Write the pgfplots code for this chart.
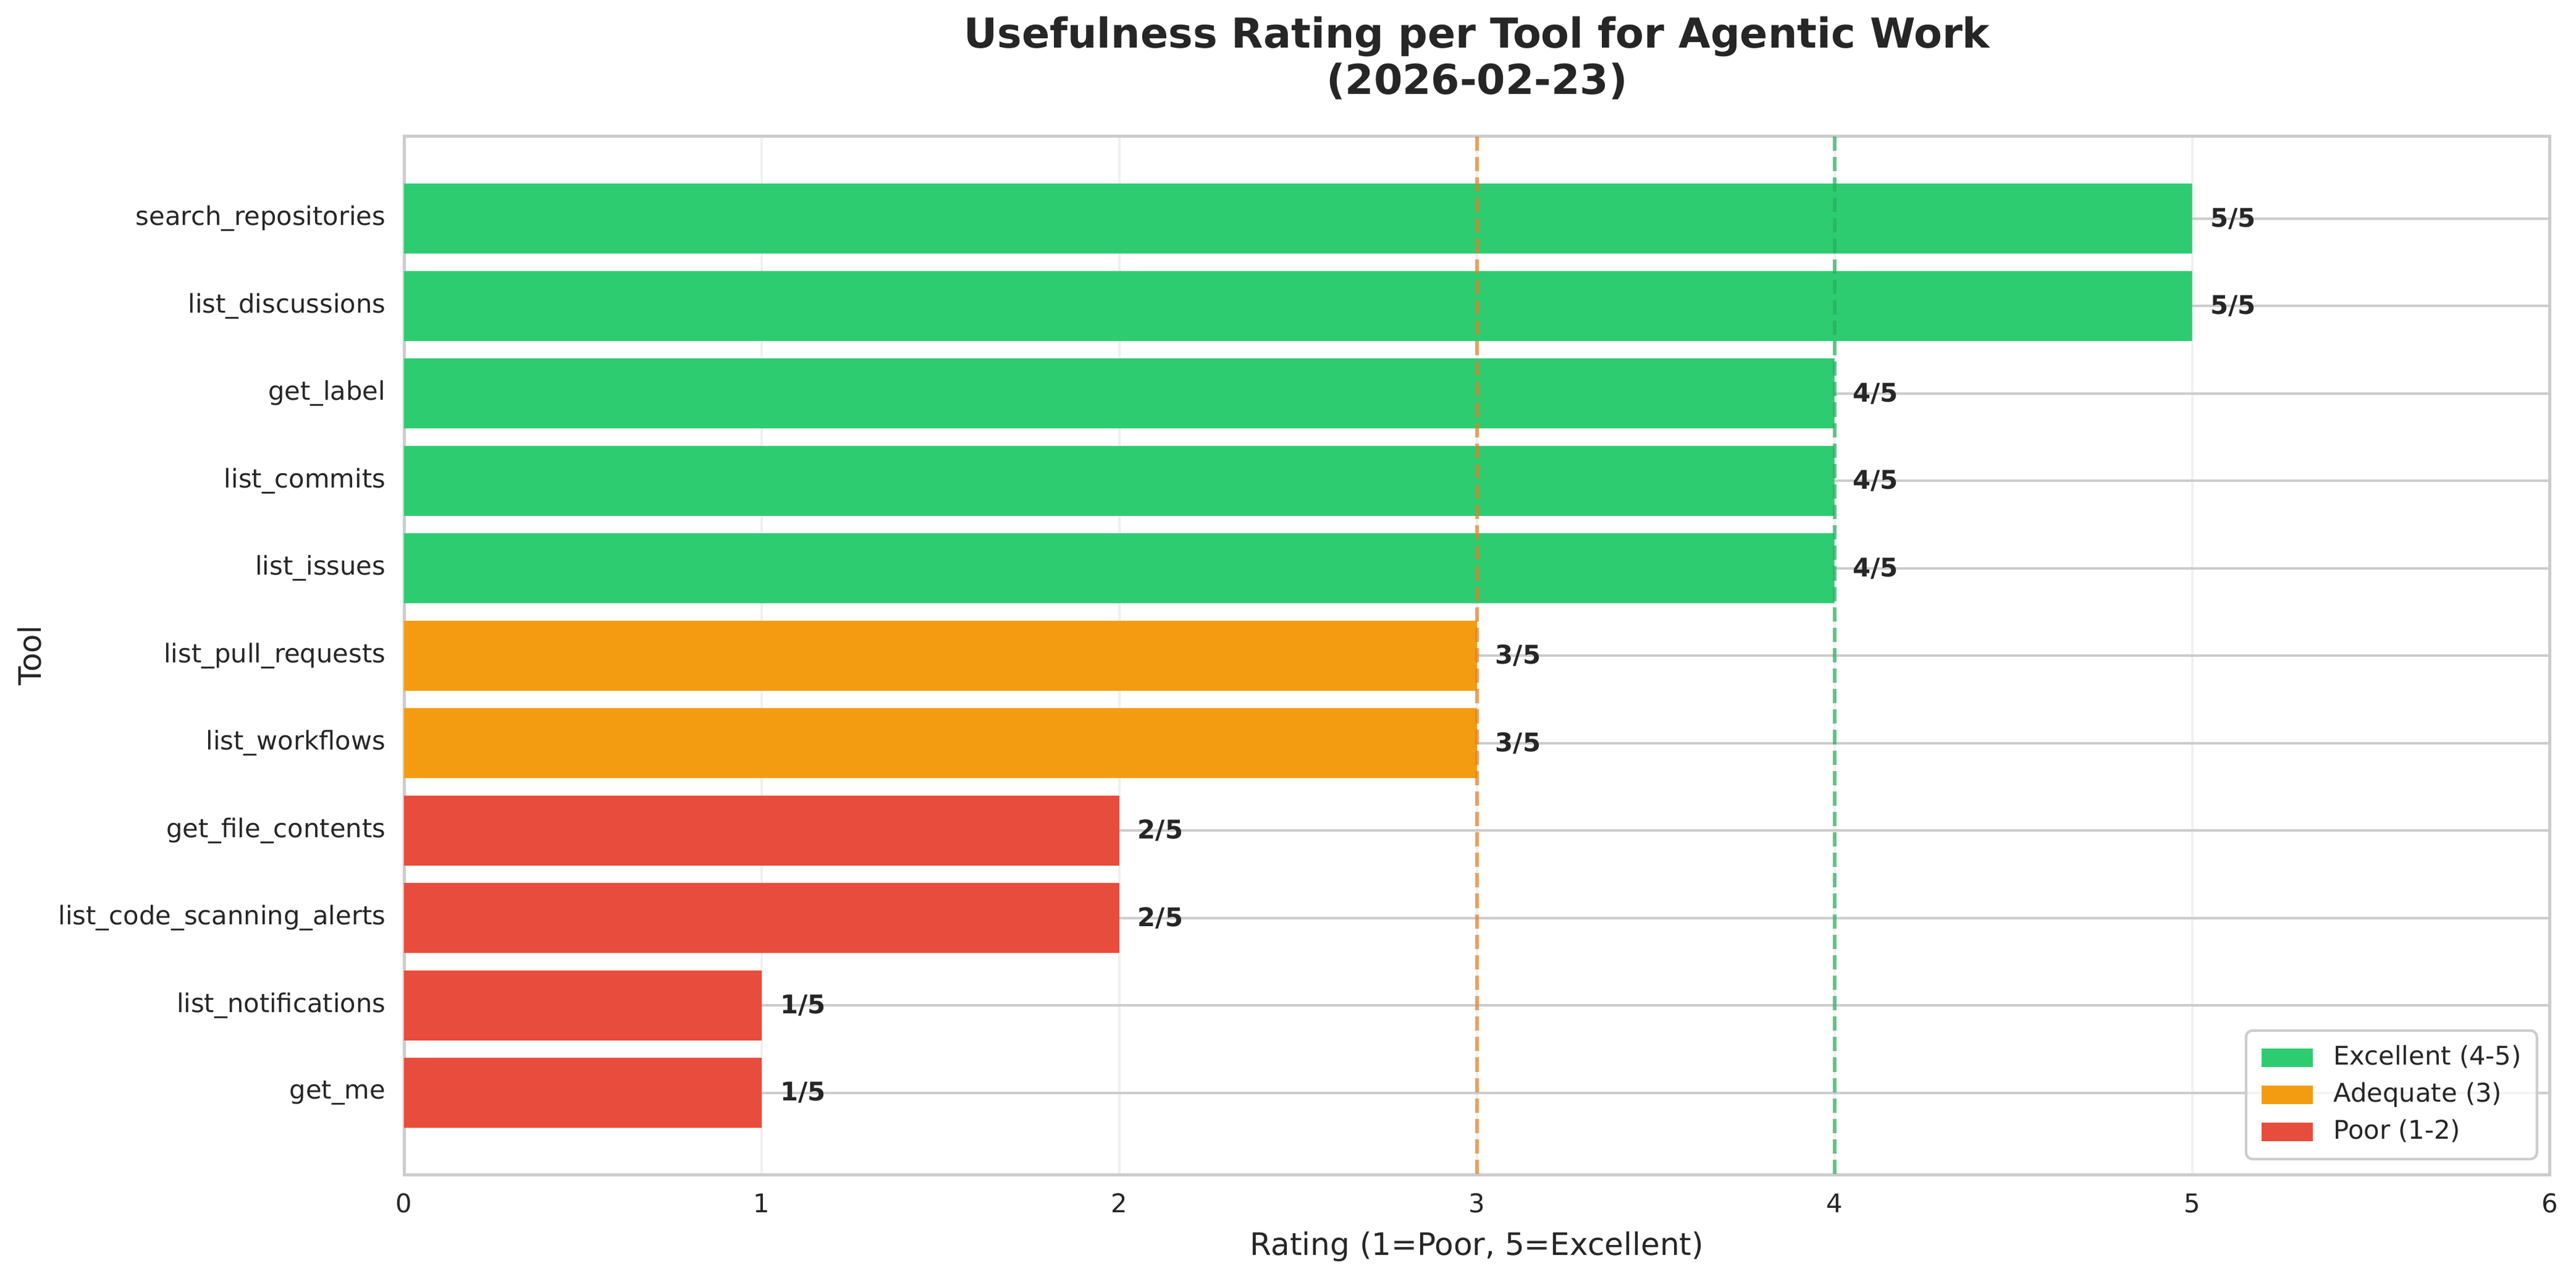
\documentclass[border=0pt]{standalone}
\usepackage{fontspec}
\setmainfont{DejaVu Sans}
\usepackage{pgfplots}
\pgfplotsset{compat=1.18}

\definecolor{cgreen}{HTML}{2ECC71}
\definecolor{corange}{HTML}{F39C12}
\definecolor{cred}{HTML}{E74C3C}
\definecolor{lorange}{HTML}{E67E22}
\definecolor{lgreen}{HTML}{27AE60}
\definecolor{spine}{HTML}{CCCCCC}
\definecolor{txt}{HTML}{262626}

\begin{document}
\begin{tikzpicture}
\begin{axis}[%
name=ax,
width=833.6pt, height=403.4pt,
scale only axis,
xbar, bar shift=0pt, bar width=0.8,
y dir=reverse,
xmin=0, xmax=6,
ymin=-0.94, ymax=10.94,
xtick={0,1,2,3,4,5,6},
ytick={0,1,2,3,4,5,6,7,8,9,10},
yticklabels={search\_repositories,list\_discussions,get\_label,list\_commits,list\_issues,list\_pull\_requests,list\_workflows,get\_file\_contents,list\_code\_scanning\_alerts,list\_notifications,get\_me},
/pgf/number format/assume math mode=true,
major tick length=0pt,
tick label style={font=\fontsize{10}{12}\selectfont, text=txt},
xticklabel style={inner sep=0pt, anchor=north, yshift=-7pt},
yticklabel style={inner sep=0pt, anchor=east, xshift=-7pt},
axis line style={spine, line width=1.25pt},
xmajorgrids, ymajorgrids,
x grid style={color=spine!30!white, line width=1pt},
y grid style={color=spine, line width=1pt},
title={Usefulness Rating per Tool for Agentic Work\\(2026-02-23)},
title style={at={(axis description cs:0.5,1)}, anchor=south, yshift=4.8pt, align=center,
  font=\fontsize{16}{18}\selectfont\bfseries, text=txt},
xlabel={Rating (1=Poor, 5=Excellent)},
xlabel style={at={(axis description cs:0.5,0)}, anchor=base, yshift=-31.2pt,
  font=\fontsize{12}{14}\selectfont, text=txt},
ylabel={Tool},
ylabel style={at={(axis description cs:-0.1745,0.5)}, anchor=center,
  font=\fontsize{12}{14}\selectfont, text=txt},
point meta=x,
nodes near coords={\pgfmathprintnumber{\pgfplotspointmeta}/5},
nodes near coords align={horizontal},
every node near coord/.append style={anchor=west, inner sep=0pt, xshift=7pt,
  font=\fontsize{10}{12}\selectfont\bfseries, text=txt},
legend cell align=left,
legend style={at={(axis description cs:1,0)}, anchor=south east,
  xshift=-4.5pt, yshift=5.7pt,
  draw=spine, line width=1pt, rounded corners=2.5pt,
  fill=white, fill opacity=0.8, text opacity=1,
  font=\fontsize{10}{12}\selectfont, text=txt,
  inner xsep=6pt, inner ysep=5.8pt,
  row sep=4.9pt, column sep=8pt,
  nodes={inner sep=0pt, text height=7.5pt, text depth=2pt}},
legend image code/.code={\fill[#1, draw=none, fill opacity=1, sharp corners] (0pt,-3.6pt) rectangle (20pt,3.6pt);},
]

\addplot[fill=cgreen, draw=none] coordinates {(5,0) (5,1) (4,2) (4,3) (4,4)};
\addlegendentry{Excellent (4-5)}
\addplot[fill=corange, draw=none] coordinates {(3,5) (3,6)};
\addlegendentry{Adequate (3)}
\addplot[fill=cred, draw=none] coordinates {(2,7) (2,8) (1,9) (1,10)};
\addlegendentry{Poor (1-2)}

\addplot[forget plot, sharp plot, nodes near coords=, lorange, opacity=0.7, line width=1.5pt,
  dash pattern=on 5.55pt off 2.4pt] coordinates {(3,-0.94) (3,10.94)};
\addplot[forget plot, sharp plot, nodes near coords=, lgreen, opacity=0.7, line width=1.5pt,
  dash pattern=on 5.55pt off 2.4pt] coordinates {(4,-0.94) (4,10.94)};

\end{axis}
\pgfresetboundingbox
\path[use as bounding box] ([shift={(-157pt,-40.2pt)}]ax.south west) rectangle ([shift={(10.2pt,53pt)}]ax.north east);
\end{tikzpicture}
\end{document}
